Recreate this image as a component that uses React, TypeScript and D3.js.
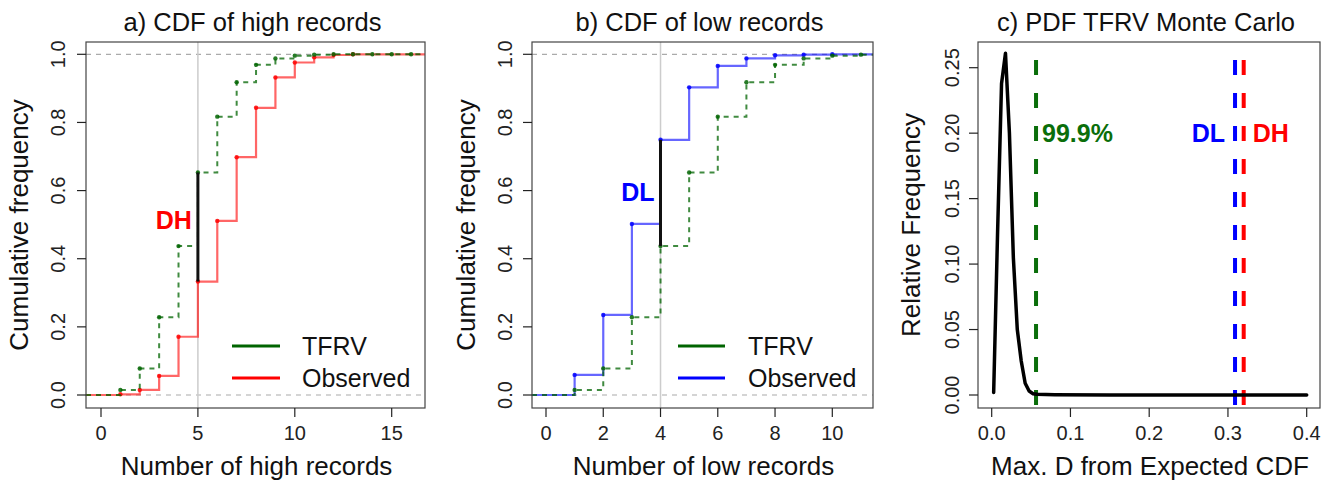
import * as d3 from "d3";
import { useEffect, useRef } from "react";

// ---- data ----
const highKnots = [1, 2, 3, 4, 5, 6, 7, 8, 9, 10, 11, 12, 13];
const highObserved = [0.002, 0.015, 0.056, 0.171, 0.333, 0.511, 0.698, 0.843, 0.932, 0.976, 0.991, 0.998, 1.0];

const lowKnots = [1, 2, 3, 4, 5, 6, 7, 8, 9, 10];
const lowObserved = [0.059, 0.235, 0.502, 0.749, 0.903, 0.966, 0.988, 0.997, 0.999, 1.0];

const tfrvKnots = [1, 2, 3, 4, 5, 6, 7, 8, 9, 10, 11, 12, 13, 14, 15, 16];
const tfrvCdf = [0.015, 0.078, 0.228, 0.437, 0.653, 0.817, 0.918, 0.969, 0.988, 0.996, 0.999, 1, 1, 1, 1, 1];

const dGrid = [0.0025, 0.0075, 0.0125, 0.0175, 0.0225, 0.0275, 0.0325, 0.0375, 0.0425, 0.0475, 0.0525, 0.0575, 0.08, 0.15, 0.25, 0.4];
const dFreq = [0.002, 0.125, 0.238, 0.261, 0.2, 0.105, 0.05, 0.026, 0.009, 0.003, 0.001, 0.0005, 0.0002, 0, 0, 0];

const crit999 = 0.0563;
const dLow = 0.309;
const dHigh = 0.32;

const highTicks = [0, 5, 10, 15];
const lowTicks = [0, 2, 4, 6, 8, 10];
const cdfTicks = [0, 0.2, 0.4, 0.6, 0.8, 1.0];
const dTicks = [0, 0.1, 0.2, 0.3, 0.4];
const freqTicks = [0, 0.05, 0.1, 0.15, 0.2, 0.25];

const FONT = "'Liberation Sans', Arial, Helvetica, sans-serif";
const GREEN = "#006400";
const RED = "#ff0000";
const BLUE = "#0000ff";

type Sel = d3.Selection<SVGGElement, unknown, null, undefined>;

interface Frame {
  left: number;
  right: number;
  top: number;
  bottom: number;
  x: d3.ScaleLinear<number, number>;
  y: d3.ScaleLinear<number, number>;
}

function drawFrame(g: Sel, f: Frame, o: {
  title: string; xlab: string; ylab: string;
  xticks: number[]; yticks: number[];
  xfmt: (d: number) => string; yfmt: (d: number) => string;
  ylabX: number; yTitleX: number;
}) {
  const tick = 9;
  // box
  g.append("rect")
    .attr("x", f.left).attr("y", f.top)
    .attr("width", f.right - f.left).attr("height", f.bottom - f.top)
    .attr("fill", "none").attr("stroke", "#444").attr("stroke-width", 1.2);

  // x axis
  o.xticks.forEach(t => {
    g.append("line")
      .attr("x1", f.x(t)).attr("x2", f.x(t))
      .attr("y1", f.bottom).attr("y2", f.bottom + tick)
      .attr("stroke", "#222").attr("stroke-width", 1.2);
    g.append("text")
      .attr("x", f.x(t)).attr("y", 440)
      .attr("text-anchor", "middle")
      .attr("font-size", 20).attr("fill", "#222")
      .text(o.xfmt(t));
  });

  // y axis
  o.yticks.forEach(t => {
    g.append("line")
      .attr("x1", f.left - tick).attr("x2", f.left)
      .attr("y1", f.y(t)).attr("y2", f.y(t))
      .attr("stroke", "#222").attr("stroke-width", 1.2);
    g.append("text")
      .attr("transform", `translate(${o.ylabX},${f.y(t)}) rotate(-90)`)
      .attr("text-anchor", "middle")
      .attr("font-size", 20).attr("fill", "#222")
      .text(o.yfmt(t));
  });

  g.append("text")
    .attr("x", (f.left + f.right) / 2 - 3).attr("y", 31)
    .attr("text-anchor", "middle").attr("font-size", 25.5).attr("fill", "#111")
    .text(o.title);

  g.append("text")
    .attr("x", (f.left + f.right) / 2 + 1).attr("y", 475)
    .attr("text-anchor", "middle").attr("font-size", 26).attr("fill", "#111")
    .text(o.xlab);

  g.append("text")
    .attr("transform", `translate(${o.yTitleX},${(f.top + f.bottom) / 2}) rotate(-90)`)
    .attr("text-anchor", "middle").attr("font-size", 26).attr("fill", "#111")
    .text(o.ylab);
}

function drawStep(g: Sel, f: Frame, knots: number[], vals: number[], color: string, dashed: boolean) {
  const x0 = f.x.invert(f.left);
  const x1 = f.x.invert(f.right);
  const inside = knots.map((k, i) => [k, vals[i]] as [number, number]).filter(d => d[0] <= x1);
  const pts: [number, number][] = [[x0, 0], ...inside, [x1, inside[inside.length - 1][1]]];
  const line = d3.line<[number, number]>()
    .x(d => f.x(d[0])).y(d => f.y(d[1]))
    .curve(d3.curveStepAfter);
  g.append("path")
    .attr("d", line(pts))
    .attr("fill", "none")
    .attr("stroke", color)
    .attr("stroke-width", dashed ? 2 : 2.2)
    .attr("stroke-opacity", dashed ? 0.75 : 0.6)
    .attr("stroke-dasharray", dashed ? "5,5" : null);
  g.selectAll(null)
    .data(inside)
    .enter().append("circle")
    .attr("cx", d => f.x(d[0])).attr("cy", d => f.y(d[1]))
    .attr("r", 2.2)
    .attr("fill", color).attr("fill-opacity", 0.85);
}

function drawLegend(g: Sel, x1: number, x2: number, tx: number, items: [string, string][]) {
  const ys = [346, 378];
  items.forEach(([label, color], i) => {
    g.append("line")
      .attr("x1", x1).attr("x2", x2).attr("y1", ys[i]).attr("y2", ys[i])
      .attr("stroke", color).attr("stroke-width", 3);
    g.append("text")
      .attr("x", tx).attr("y", ys[i])
      .attr("dominant-baseline", "central")
      .attr("font-size", 25).attr("fill", "#111")
      .text(label);
  });
}

function cdfPanel(g: Sel, f: Frame, knots: number[], obs: number[], color: string, at: number, label: string, labelY: number) {
  const x0 = f.x.invert(f.left);
  const x1 = f.x.invert(f.right);
  // reference lines
  [0, 1].forEach(v => {
    g.append("line")
      .attr("x1", f.x(x0)).attr("x2", f.x(x1))
      .attr("y1", f.y(v)).attr("y2", f.y(v))
      .attr("stroke", "#aaa").attr("stroke-width", 1.2).attr("stroke-dasharray", "5,5");
  });
  g.append("line")
    .attr("x1", f.x(at)).attr("x2", f.x(at))
    .attr("y1", f.top).attr("y2", f.bottom)
    .attr("stroke", "#ccc").attr("stroke-width", 1.5);

  drawStep(g, f, knots, obs, color, false);
  drawStep(g, f, tfrvKnots, tfrvCdf, GREEN, true);

  const o = obs[knots.indexOf(at)];
  const t = tfrvCdf[tfrvKnots.indexOf(at)];
  g.append("line")
    .attr("x1", f.x(at)).attr("x2", f.x(at))
    .attr("y1", f.y(o)).attr("y2", f.y(t))
    .attr("stroke", "#111").attr("stroke-width", 3);
  g.append("text")
    .attr("x", f.x(at) - 6).attr("y", f.y(labelY))
    .attr("text-anchor", "end").attr("dominant-baseline", "central")
    .attr("font-size", 25).attr("font-weight", "bold").attr("fill", color)
    .text(label);
}

export default function App() {
  const ref = useRef<SVGSVGElement | null>(null);

  useEffect(() => {
    if (!ref.current) return;
    const svg = d3.select(ref.current);
    svg.selectAll("*").remove();
    const root = svg.append("g").attr("font-family", FONT);

    const top = 42, bottom = 408;
    const yCdf = d3.scaleLinear().domain([0, 1]).range([395, 54.3]);

    // a) high records
    const fa: Frame = { left: 86, right: 425, top, bottom, x: d3.scaleLinear().domain([0, 15]).range([101, 391.7]), y: yCdf };
    const ga = root.append("g");
    cdfPanel(ga, fa, highKnots, highObserved, RED, 5, "DH", 0.515);
    drawLegend(ga, 232, 280, 302, [["TFRV", GREEN], ["Observed", RED]]);
    drawFrame(ga, fa, {
      title: "a) CDF of high records", xlab: "Number of high records", ylab: "Cumulative frequency",
      xticks: highTicks, yticks: cdfTicks, xfmt: d => String(d), yfmt: d3.format(".1f"),
      ylabX: 65, yTitleX: 28,
    });

    // b) low records
    const fb: Frame = { left: 532, right: 873, top, bottom, x: d3.scaleLinear().domain([0, 10]).range([546, 832.3]), y: yCdf };
    const gb = root.append("g");
    cdfPanel(gb, fb, lowKnots, lowObserved, BLUE, 4, "DL", 0.595);
    drawLegend(gb, 678, 725, 748, [["TFRV", GREEN], ["Observed", BLUE]]);
    drawFrame(gb, fb, {
      title: "b) CDF of low records", xlab: "Number of low records", ylab: "Cumulative frequency",
      xticks: lowTicks, yticks: cdfTicks, xfmt: d => String(d), yfmt: d3.format(".1f"),
      ylabX: 512, yTitleX: 475,
    });

    // c) Monte Carlo PDF
    const fc: Frame = {
      left: 978, right: 1320, top, bottom,
      x: d3.scaleLinear().domain([0, 0.4]).range([991.7, 1306.7]),
      y: d3.scaleLinear().domain([0, 0.25]).range([395, 67.7]),
    };
    const gc = root.append("g");
    const vlines: [number, string][] = [[crit999, "#0a6e0a"], [dLow, BLUE], [dHigh, RED]];
    vlines.forEach(([v, c]) => {
      gc.append("line")
        .attr("x1", fc.x(v)).attr("x2", fc.x(v))
        .attr("y1", top).attr("y2", bottom)
        .attr("stroke", c).attr("stroke-width", 4)
        .attr("stroke-dasharray", "15,18").attr("stroke-dashoffset", 15);
    });
    const pdf = d3.line<number>()
      .x((_, i) => fc.x(dGrid[i])).y(d => fc.y(d));
    gc.append("path")
      .attr("d", pdf(dFreq))
      .attr("fill", "none").attr("stroke", "#000")
      .attr("stroke-width", 3.5).attr("stroke-linejoin", "round").attr("stroke-linecap", "round");

    gc.append("text")
      .attr("x", fc.x(crit999) + 6).attr("y", fc.y(0.2))
      .attr("dominant-baseline", "central")
      .attr("font-size", 25).attr("font-weight", "bold").attr("fill", "#0a6e0a")
      .text("99.9%");
    gc.append("text")
      .attr("x", fc.x(dLow) - 10).attr("y", fc.y(0.2))
      .attr("text-anchor", "end").attr("dominant-baseline", "central")
      .attr("font-size", 25).attr("font-weight", "bold").attr("fill", BLUE)
      .text("DL");
    gc.append("text")
      .attr("x", fc.x(dHigh) + 9).attr("y", fc.y(0.2))
      .attr("dominant-baseline", "central")
      .attr("font-size", 25).attr("font-weight", "bold").attr("fill", RED)
      .text("DH");

    drawFrame(gc, fc, {
      title: "c) PDF TFRV Monte Carlo", xlab: "Max. D from Expected CDF", ylab: "Relative Frequency",
      xticks: dTicks, yticks: freqTicks, xfmt: d3.format(".1f"), yfmt: d3.format(".2f"),
      ylabX: 959, yTitleX: 920,
    });
  }, []);

  return (
    <svg
      ref={ref}
      width={1338}
      height={481}
      style={{ position: "absolute", left: 0, top: 0, background: "#fff" }}
    />
  );
}
